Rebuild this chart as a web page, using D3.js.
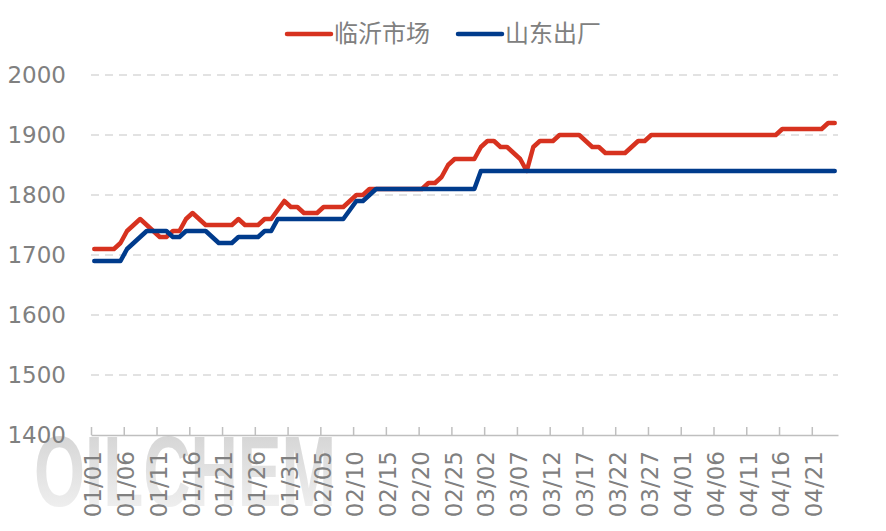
<!DOCTYPE html>
<html>
<head>
<meta charset="utf-8">
<script src="https://cdn.jsdelivr.net/npm/d3@7"></script>
<style>
  body { margin: 0; background: #fff; }
  svg { display: block; }
</style>
</head>
<body>
<script>
// chart size
var w = 886, h = 531;

// series names
var seriesNames = ["临沂市场", "山东出厂"];

// 临沂市场 (turning points, MM/DD)
var redDates = ["01/01","01/04","01/05","01/06","01/07","01/08","01/09","01/10","01/11","01/12",
  "01/13","01/14","01/15","01/16","01/17","01/18","01/22","01/23","01/24","01/26",
  "01/27","01/28","01/29","01/30","01/31","02/01","02/02","02/04","02/05","02/08",
  "02/09","02/10","02/11","02/12","02/20","02/21","02/22","02/23","02/24","02/25",
  "02/28","03/01","03/02","03/03","03/04","03/05","03/06","03/07","03/08","03/09",
  "03/10","03/12","03/13","03/16","03/17","03/18","03/19","03/20","03/23","03/24",
  "03/25","03/26","03/27","04/15","04/16","04/22","04/23","04/24"];
var redValues = [1710,1710,1720,1740,1750,1760,1750,1740,1730,1730,
  1740,1740,1760,1770,1760,1750,1750,1760,1750,1750,
  1760,1760,1775,1790,1780,1780,1770,1770,1780,1780,
  1790,1800,1800,1810,1810,1820,1820,1830,1850,1860,
  1860,1880,1890,1890,1880,1880,1870,1860,1840,1880,
  1890,1890,1900,1900,1890,1880,1880,1870,1870,1880,
  1890,1890,1900,1900,1910,1910,1920,1920];

// 山东出厂 (turning points, MM/DD)
var blueDates = ["01/01","01/05","01/06","01/07","01/08","01/09","01/12","01/13","01/14","01/15",
  "01/18","01/19","01/20","01/22","01/23","01/26","01/27","01/28","01/29","02/08",
  "02/09","02/10","02/11","02/12","02/13","02/28","03/01","04/24"];
var blueValues = [1690,1690,1710,1720,1730,1740,1740,1730,1730,1740,
  1740,1730,1720,1720,1730,1730,1740,1740,1760,1760,
  1775,1790,1790,1800,1810,1810,1840,1840];

// axis settings
var yTicks = [1400, 1500, 1600, 1700, 1800, 1900, 2000];
var year = 2023;
var firstDay = "01/01", endDay = "04/25"; // axis spans 01/01 .. 04/24 inclusive

var colors = ["#d7321f", "#003b8c"];
var gray = "#808080";

var parseDay = function(s) { return d3.timeParse("%Y/%m/%d")(year + "/" + s); };
var fmt = d3.timeFormat("%m/%d");

var x = d3.scaleTime()
  .domain([parseDay(firstDay), parseDay(endDay)])
  .range([91, 838]);
var y = d3.scaleLinear()
  .domain([1400, 2000])
  .range([435, 75]);

// point sits in the middle of its day slot
var mid = function(d) { return x(d3.timeHour.offset(d, 12)); };

var svg = d3.select("body").append("svg")
  .attr("width", w)
  .attr("height", h);

// watermark
var grad = svg.append("defs").append("linearGradient")
  .attr("id", "wm").attr("x1", 0).attr("y1", 0).attr("x2", 0).attr("y2", 1);
grad.append("stop").attr("offset", "0%").attr("stop-color", "#cfcfcf");
grad.append("stop").attr("offset", "100%").attr("stop-color", "#f5f5f5");
svg.append("text")
  .attr("x", 34).attr("y", 506)
  .attr("font-family", "Liberation Sans, Arial, sans-serif")
  .attr("font-weight", "bold")
  .attr("font-size", 100)
  .attr("textLength", 302)
  .attr("lengthAdjust", "spacingAndGlyphs")
  .attr("fill", "url(#wm)")
  .text("OILCHEM");

// grid lines
svg.append("g")
  .selectAll("line")
  .data(yTicks.filter(function(t) { return t > 1400; }))
  .enter().append("line")
  .attr("x1", x.range()[0]).attr("x2", x.range()[1])
  .attr("y1", function(d) { return y(d); })
  .attr("y2", function(d) { return y(d); })
  .attr("stroke", "#d9d9d9")
  .attr("stroke-width", 1.5)
  .attr("stroke-dasharray", "8,6");

// y labels
svg.append("g")
  .selectAll("text")
  .data(yTicks)
  .enter().append("text")
  .attr("x", 66)
  .attr("y", function(d) { return y(d); })
  .attr("dy", "0.35em")
  .attr("text-anchor", "end")
  .attr("font-family", "DejaVu Sans, sans-serif")
  .attr("font-size", 23)
  .attr("fill", gray)
  .text(function(d) { return d; });

// x axis with ticks every 5 days
var start = parseDay(firstDay);
var tickDays = d3.timeDay.range(start, parseDay(endDay))
  .filter(function(d) { return d3.timeDay.count(start, d) % 5 === 0; });

var xAxis = d3.axisBottom(x)
  .tickValues(tickDays)
  .tickSizeInner(-8)
  .tickSizeOuter(0)
  .tickFormat("");

var gx = svg.append("g")
  .attr("transform", "translate(0," + y(1400) + ")")
  .call(xAxis);
gx.select(".domain").attr("stroke", "#bfbfbf").attr("stroke-width", 1.5);
gx.selectAll(".tick line").attr("stroke", "#bfbfbf").attr("stroke-width", 1.5);

svg.append("g")
  .selectAll("text")
  .data(tickDays)
  .enter().append("text")
  .attr("transform", function(d) { return "translate(" + (mid(d) - 1) + ",451) rotate(-90)"; })
  .attr("dy", "0.35em")
  .attr("text-anchor", "end")
  .attr("font-family", "DejaVu Sans, sans-serif")
  .attr("font-size", 23)
  .attr("fill", gray)
  .text(function(d) { return fmt(d); });

// lines
var line = d3.line()
  .x(function(d) { return mid(d.date); })
  .y(function(d) { return y(d.value); });

var series = [
  redDates.map(function(s, i) { return { date: parseDay(s), value: redValues[i] }; }),
  blueDates.map(function(s, i) { return { date: parseDay(s), value: blueValues[i] }; })
];

svg.append("g")
  .selectAll("path")
  .data(series)
  .enter().append("path")
  .attr("d", line)
  .attr("fill", "none")
  .attr("stroke", function(d, i) { return colors[i]; })
  .attr("stroke-width", 4.5)
  .attr("stroke-linejoin", "round")
  .attr("stroke-linecap", "round");

// legend
var legendX = [287, 458];
var lg = svg.append("g")
  .selectAll("g")
  .data(seriesNames)
  .enter().append("g")
  .attr("transform", function(d, i) { return "translate(" + legendX[i] + ",34)"; });
lg.append("line")
  .attr("x1", 0).attr("x2", 44)
  .attr("stroke", function(d, i) { return colors[i]; })
  .attr("stroke-width", 4.5)
  .attr("stroke-linecap", "round");
lg.append("text")
  .attr("x", 47)
  .attr("dy", "0.35em")
  .attr("font-family", "Noto Sans CJK SC, sans-serif")
  .attr("font-size", 24)
  .attr("fill", gray)
  .text(function(d) { return d; });
</script>
</body>
</html>
